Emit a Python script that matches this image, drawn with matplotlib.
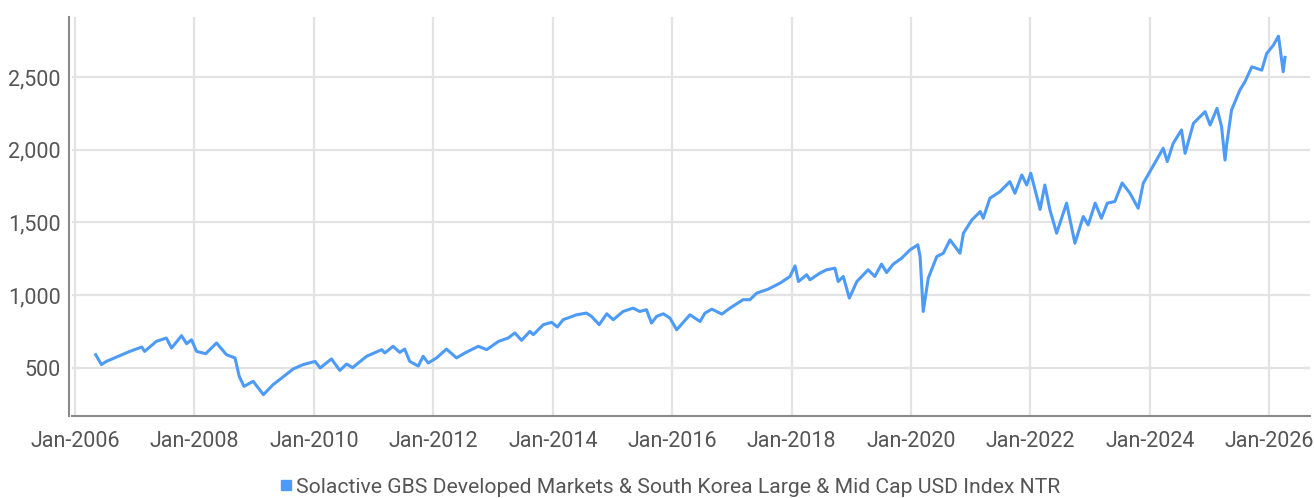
"""Solactive GBS Developed Markets & South Korea index level, 2006-2026."""
import matplotlib
matplotlib.use("Agg")
import matplotlib.pyplot as plt
import matplotlib.dates as mdates
from matplotlib.lines import Line2D
from matplotlib.ticker import FuncFormatter
import pandas as pd

# values
dates = [
    "2006-05-07", "2006-06-11", "2006-07-11", "2006-09-12", "2006-12-02",
    "2007-02-13", "2007-03-02", "2007-05-13", "2007-07-13", "2007-08-14",
    "2007-10-14", "2007-11-14", "2007-12-14", "2008-01-14", "2008-03-10",
    "2008-05-15", "2008-07-15", "2008-09-05", "2008-10-01", "2008-10-30",
    "2008-12-25", "2009-02-26", "2009-04-26", "2009-06-26", "2009-08-27",
    "2009-10-27", "2010-01-08", "2010-02-08", "2010-04-18", "2010-06-08",
    "2010-07-20", "2010-08-25", "2010-11-19", "2011-02-20", "2011-03-10",
    "2011-04-30", "2011-06-10", "2011-07-10", "2011-08-10", "2011-10-01",
    "2011-10-31", "2011-12-01", "2012-01-21", "2012-03-22", "2012-05-22",
    "2012-07-12", "2012-10-02", "2012-11-23", "2013-02-03", "2013-04-03",
    "2013-05-14", "2013-06-24", "2013-08-14", "2013-09-04", "2013-11-04",
    "2013-12-25", "2014-01-29", "2014-03-05", "2014-05-26", "2014-07-26",
    "2014-08-26", "2014-10-12", "2014-11-27", "2015-01-06", "2015-03-07",
    "2015-05-07", "2015-06-17", "2015-07-28", "2015-08-28", "2015-09-28",
    "2015-11-08", "2015-12-18", "2016-01-29", "2016-04-19", "2016-06-20",
    "2016-07-20", "2016-08-31", "2016-10-31", "2016-12-20", "2017-03-10",
    "2017-04-21", "2017-06-01", "2017-08-11", "2017-10-22", "2017-12-22",
    "2018-01-22", "2018-02-12", "2018-04-03", "2018-04-23", "2018-06-23",
    "2018-08-03", "2018-09-23", "2018-10-13", "2018-11-13", "2018-12-20",
    "2019-02-04", "2019-04-14", "2019-05-25", "2019-07-05", "2019-08-05",
    "2019-09-15", "2019-11-05", "2019-12-26", "2020-02-12", "2020-02-26",
    "2020-03-16", "2020-04-16", "2020-06-07", "2020-07-17", "2020-08-27",
    "2020-10-27", "2020-11-17", "2021-01-08", "2021-02-28", "2021-03-18",
    "2021-04-28", "2021-06-28", "2021-08-28", "2021-09-28", "2021-11-09",
    "2021-12-09", "2022-01-03", "2022-03-01", "2022-03-30", "2022-04-30",
    "2022-06-10", "2022-08-10", "2022-09-30", "2022-11-20", "2022-12-20",
    "2023-02-01", "2023-03-11", "2023-04-16", "2023-06-01", "2023-07-16",
    "2023-09-02", "2023-10-22", "2023-11-22", "2024-01-02", "2024-03-23",
    "2024-04-17", "2024-05-23", "2024-07-13", "2024-08-04", "2024-09-24",
    "2024-12-04", "2025-01-04", "2025-02-15", "2025-03-15", "2025-04-05",
    "2025-04-15", "2025-05-15", "2025-07-05", "2025-08-05", "2025-09-16",
    "2025-11-16", "2025-12-16", "2026-01-26", "2026-02-26", "2026-03-07",
    "2026-03-27", "2026-04-07",
]
values = [
    589, 521, 543, 573, 612,
    642, 612, 681, 704, 635,
    720, 665, 692, 612, 596,
    670, 589, 567, 440, 371,
    406, 314, 383, 436, 491,
    521, 543, 498, 560, 481,
    525, 500, 578, 624, 601,
    647, 605, 628, 543, 511,
    578, 532, 567, 628, 567,
    601, 647, 624, 681, 704,
    739, 688, 750, 727, 796,
    812, 780, 830, 864, 876,
    853, 796, 871, 830, 887,
    910, 887, 899, 807, 853,
    871, 842, 761, 864, 818,
    876, 903, 869, 910, 968,
    968, 1013, 1041, 1082, 1128,
    1201, 1093, 1140, 1105, 1151,
    1174, 1185, 1093, 1128, 979,
    1093, 1174, 1128, 1213, 1155,
    1213, 1254, 1311, 1346, 1265,
    887, 1117, 1265, 1288, 1380,
    1288, 1426, 1518, 1575, 1529,
    1667, 1712, 1781, 1701, 1827,
    1758, 1839, 1590, 1758, 1587,
    1426, 1633, 1357, 1541, 1483,
    1633, 1529, 1633, 1644, 1772,
    1701, 1598, 1770, 1851, 2011,
    1919, 2045, 2137, 1976, 2183,
    2263, 2171, 2286, 2160, 1930,
    2034, 2274, 2412, 2469, 2572,
    2549, 2664, 2721, 2783, 2710,
    2538, 2637,
]
series_label = "Solactive GBS Developed Markets & South Korea Large & Mid Cap USD Index NTR"
y_ticks = [500, 1000, 1500, 2000, 2500]

LINE = "#4d9bf7"
GRID = "#e3e3e3"
TEXT = "#555555"
plt.rcParams["font.family"] = ["Roboto", "DejaVu Sans"]

W, H = 1314, 498
fig = plt.figure(figsize=(W / 100, H / 100), dpi=100)
# plot area in pixels: left 72, right 1310, top 17, bottom 416
ax = fig.add_axes([72 / W, (H - 416) / H, (1310 - 72) / W, (416 - 17) / H])

x = pd.to_datetime(dates)
ax.plot(x, values, color=LINE, linewidth=2.2, solid_joinstyle="round")

ax.set_xlim(pd.Timestamp("2005-12-13"), pd.Timestamp("2026-09-07"))
ax.set_ylim(167, 2915)
ax.set_yticks(y_ticks)
ax.yaxis.set_major_formatter(FuncFormatter(lambda v, p: f"{int(v):,}"))
ax.xaxis.set_major_locator(mdates.YearLocator(2))
ax.xaxis.set_major_formatter(mdates.DateFormatter("%b-%Y"))

ax.grid(True, color=GRID, linewidth=1.6)
ax.set_axisbelow(True)
for side in ("top", "right"):
    ax.spines[side].set_visible(False)
for side in ("left", "bottom"):
    ax.spines[side].set_color("#8a8a8a")
    ax.spines[side].set_linewidth(1.5)
ax.spines["left"].set_position(("outward", 2))

ax.tick_params(axis="both", length=0, labelsize=15.5, labelcolor=TEXT)
ax.tick_params(axis="y", pad=6)
ax.tick_params(axis="x", pad=11)

handle = Line2D([0], [0], marker="s", linestyle="none", markersize=7,
                markerfacecolor=LINE, markeredgecolor=LINE)
fig.legend([handle], [series_label], loc="center",
           bbox_to_anchor=(670 / W, 1 - 487 / H), frameon=False,
           fontsize=15.2, labelcolor=TEXT, handlelength=0.6,
           handletextpad=0.2, borderpad=0)

fig.savefig("out.png", dpi=100)
